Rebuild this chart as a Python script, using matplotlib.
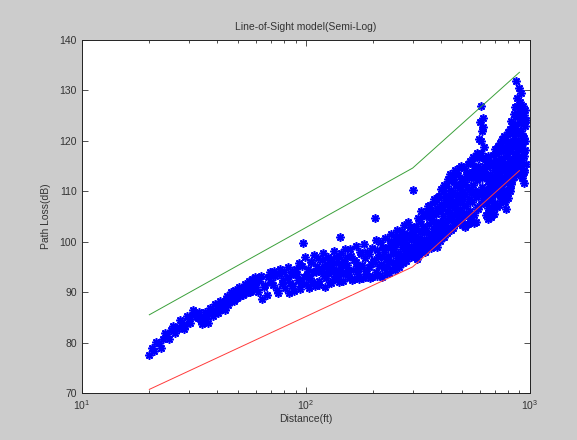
import numpy as np
import matplotlib
matplotlib.use("Agg")
import matplotlib.pyplot as plt
from matplotlib.ticker import LogLocator, NullFormatter

plt.rcParams['font.family'] = ['Liberation Sans', 'DejaVu Sans']

# measured path loss vs. distance, first walk
distance_ft = [
    20, 21, 22, 23, 24, 25, 26, 27, 28, 29, 30, 31, 32, 33, 34, 35, 36, 37, 38, 39,
    40, 41, 42, 43, 44, 45, 46, 47, 48, 49, 50, 51, 52, 53, 54, 55, 56, 57, 58, 59, 60,
    62, 64, 66, 68, 70, 72, 74, 76, 78, 80, 82, 84, 86, 88, 90, 92, 94, 96, 97, 98,
    100, 102, 104, 106, 108, 110, 112, 114, 116, 118, 120, 122, 124, 126, 128, 130,
    132, 134, 136, 138, 140, 142, 144, 146, 148, 150,
    153, 156, 159, 162, 165, 168, 171, 174, 177, 180, 183, 186, 189, 192, 195, 198,
    201, 203, 206, 209, 212, 215, 218, 221, 224, 227, 230, 233, 236, 239, 242, 245,
    248, 251, 254, 257, 260, 263, 266, 269, 272, 275, 278, 281, 284, 287, 290, 293,
    296, 299, 301,
    303, 306, 309, 312, 315, 318, 321, 324, 327, 330, 333, 336, 339, 342, 345, 348,
    351, 354, 357, 360, 363, 366, 369, 372, 375, 378, 381, 384, 387, 390, 393, 396,
    399, 402, 405, 408, 411, 414, 417, 420, 423, 426, 429, 432, 435, 438, 441, 444,
    447, 450, 453, 456, 459, 462, 465, 468, 471, 474, 477, 480, 483, 486, 489, 492,
    495, 498,
    501, 504, 507, 510, 513, 516, 519, 522, 525, 528, 531, 534, 537, 540, 543, 546,
    549, 552, 555, 558, 561, 564, 567, 570, 573, 576, 579, 582, 585, 588, 591, 594,
    597, 600, 603, 606, 609, 612, 615, 618, 621, 624, 627, 630, 633, 636, 639, 642,
    645, 648, 651, 654, 657, 660, 663, 666, 669, 672, 675, 678, 681, 684, 687, 690,
    693, 696, 699, 702, 705, 708, 711, 714, 717, 720, 723, 726, 729, 732, 735, 738,
    741, 744, 747, 750, 753, 756, 759, 762, 765, 768, 771, 774, 777, 780, 783, 786,
    789, 792, 795, 798, 801, 804, 807, 810, 813, 816, 819, 822, 825, 828, 831, 834,
    837, 840, 843, 846, 849, 852, 855, 858, 861, 864, 867, 870, 873, 876, 879, 882,
    885, 888, 891, 894, 897, 900, 903, 906, 909, 912, 915, 918, 921, 924, 927, 930,
    933, 936, 939, 942, 945, 948, 951, 954, 957, 960,
]
path_loss_db = [
    77.6, 78.4, 79.9, 80.6, 81.3, 82.4, 81.8, 83.1, 84.0, 83.2, 84.6, 85.5, 85.9, 84.9,
    84.2, 85.0, 84.6, 85.7, 86.3, 85.9, 86.8, 87.4, 86.6, 87.9, 88.4, 87.5, 88.8, 89.3,
    88.2, 89.6, 90.1, 89.2, 90.6, 91.0, 89.9, 90.8, 91.4, 90.3, 91.7, 92.1, 91.0,
    92.3, 88.6, 91.5, 93.0, 92.1, 94.2, 90.4, 93.5, 91.6, 94.0, 92.7, 89.8, 93.3, 91.2,
    94.5, 92.4, 90.6, 95.1, 99.8, 93.0, 91.7, 94.6, 92.8, 96.0, 93.9, 91.3, 95.2, 92.2,
    94.4, 96.4, 93.1, 91.0, 95.5, 93.7, 92.0, 96.6, 94.1, 92.6, 95.8, 93.4, 97.0, 100.9,
    94.8, 92.3, 96.2, 93.8,
    95.4, 92.9, 97.1, 94.3, 92.5, 96.0, 93.6, 98.0, 95.0, 92.7, 96.8, 94.2, 93.1, 97.5,
    95.6, 92.9, 96.4, 104.6, 94.0, 98.3, 95.2, 93.4, 97.2, 99.0, 94.8, 96.5, 93.7, 98.7,
    95.9, 100.2, 94.5, 97.6, 99.4, 95.3, 101.0, 96.8, 94.9, 99.8, 97.4, 102.1, 95.8,
    100.3, 98.1, 96.2, 101.6, 99.0, 97.3, 103.0, 100.4, 98.2, 110.2,
    101.5, 97.0, 99.6, 103.2, 96.6, 100.8, 98.4, 104.1, 97.9, 101.9, 99.3, 105.2, 98.6,
    102.7, 100.1, 106.0, 99.0, 103.6, 101.3, 107.3, 99.8, 104.5, 102.2, 108.4, 100.5,
    105.7, 103.0, 98.9, 106.6, 101.8, 109.0, 104.0, 100.2, 107.5, 102.6, 110.1, 105.1,
    101.0, 108.2, 103.7, 111.0, 106.0, 101.7, 109.2, 104.6, 112.0, 107.1, 102.4, 110.3,
    105.5, 113.0, 108.0, 103.4, 114.3, 106.8, 111.5, 104.2, 109.4, 113.2, 106.2, 110.6,
    103.9, 108.7, 112.4, 105.6, 109.9,
    104.8, 111.9, 107.3, 114.6, 102.9, 109.5, 113.0, 105.7, 110.8, 115.4, 103.6, 108.4,
    112.7, 106.1, 116.0, 109.9, 104.3, 113.8, 107.9, 111.2, 116.8, 105.2, 110.1, 114.5,
    103.9, 108.9, 117.6, 112.3, 106.5, 115.1, 109.2, 120.4, 113.6, 123.8, 107.4, 126.9,
    117.5, 121.9, 110.8, 124.6, 114.3, 118.7, 108.0, 112.9, 116.4, 105.3, 110.2, 114.9,
    107.7, 104.5, 112.1, 116.9, 109.0, 105.8, 113.5, 110.6, 104.9, 115.7, 108.3, 111.8,
    106.2, 117.1, 112.4, 105.4, 109.7, 114.2, 118.3, 107.6, 111.3, 116.0, 106.9, 113.9,
    109.4, 118.9, 112.0, 107.2, 115.6, 110.4, 119.6, 113.2, 108.1, 116.6, 111.0, 120.3,
    114.1, 108.8, 117.9, 112.5, 121.0, 109.6, 115.3, 118.6, 107.9, 113.7, 106.4, 120.7,
    111.6, 116.7, 109.3, 121.8, 114.0, 108.7, 118.2, 112.8, 122.4, 110.0, 116.1, 119.7,
    111.4, 124.0, 115.0, 118.9, 112.2, 122.9, 116.5, 113.1, 125.3, 119.2, 114.6, 121.5,
    117.3, 126.8, 113.9, 131.9, 120.1, 124.8, 115.8, 128.6, 118.4, 122.2, 113.6, 130.4,
    125.9, 117.0, 121.3, 127.7, 114.8, 123.6, 119.0, 129.4, 116.3, 124.4, 112.6, 121.0,
    127.0, 117.8, 114.2, 125.2, 120.6, 111.7, 123.0, 118.1, 126.1, 115.5,
]

# second walk over the same route
distance2_ft = [
    20.5, 21.5, 22.5, 23.5, 24.5, 25.5, 26.5, 27.5, 28.5, 29.5, 30.5, 31.5, 32.5, 33.5,
    34.5, 35.5, 36.5, 37.5, 38.5, 39.5, 40.5, 41.5, 42.5, 43.5, 44.5, 45.5, 46.5, 47.5,
    48.5, 49.5, 50.5, 51.5, 52.5, 53.5, 54.5, 55.5, 56.5, 57.5, 58.5, 59.5,
    61, 63, 65, 67, 69, 71, 73, 75, 77, 79, 81, 83, 85, 87, 89, 91, 93, 95, 99, 101,
    103, 105, 107, 109, 111, 113, 115, 117, 119, 121, 123, 125, 127, 129, 131, 133,
    135, 137, 139, 141, 143, 145, 147, 149,
    152, 155, 158, 161, 164, 167, 170, 173, 176, 179, 182, 185, 188, 191, 194, 197,
    200, 205, 208, 211, 214, 217, 220, 223, 226, 229, 232, 235, 238, 241, 244, 247,
    250, 253, 256, 259, 262, 265, 268, 271, 274, 277, 280, 283, 286, 289, 292, 295, 298,
    304, 307, 310, 313, 316, 319, 322, 325, 328, 331, 334, 337, 340, 343, 346, 349,
    352, 355, 358, 361, 364, 367, 370, 373, 376, 379, 382, 385, 388, 391, 394, 397,
    400, 403, 406, 409, 412, 415, 418, 421, 424, 427, 430, 433, 436, 439, 442, 445,
    448, 451, 454, 457, 460, 463, 466, 469, 472, 475, 478, 481, 484, 487, 490, 493,
    496, 499,
    502, 508, 514, 520, 526, 532, 538, 544, 550, 556, 562, 568, 574, 580, 586, 592,
    598, 604, 610, 616, 622, 628, 634, 640, 646, 652, 658, 664, 670, 676, 682, 688,
    694, 700, 706, 712, 718, 724, 730, 736, 742, 748, 754, 760, 766, 772, 778, 784,
    790, 796, 802, 808, 814, 820, 826, 832, 838, 844, 850, 856, 862, 868, 874, 880,
    886, 892, 898, 904, 910, 916, 922, 928, 934, 940, 946, 952, 958,
]
path_loss2_db = [
    79.0, 80.2, 78.9, 81.9, 80.7, 83.3, 82.6, 84.5, 82.7, 85.3, 83.8, 86.4, 85.0, 86.1,
    83.7, 86.0, 83.9, 86.9, 85.2, 87.6, 85.9, 88.3, 87.1, 86.5, 89.2, 88.1, 90.0, 88.5,
    90.4, 88.9, 91.0, 90.2, 89.4, 91.7, 90.9, 92.3, 90.0, 92.5, 91.2, 92.9,
    90.1, 93.1, 91.0, 89.5, 94.0, 91.4, 93.2, 89.9, 94.6, 92.4, 90.8, 95.0, 91.9, 94.1,
    90.2, 93.6, 95.7, 91.9, 96.9, 93.5, 90.9, 95.9, 92.1, 97.3, 94.0, 96.7, 91.5, 93.9,
    97.8, 95.0, 92.7, 97.0, 94.6, 91.8, 95.4, 98.1, 93.2, 96.9, 94.4, 92.1, 97.7, 95.6,
    93.5, 98.5,
    96.9, 94.1, 98.6, 92.4, 96.3, 99.1, 94.8, 92.6, 97.5, 95.3, 99.6, 93.5, 97.9, 95.0,
    92.8, 98.8, 96.0, 100.3, 93.2, 97.0, 99.9, 95.5, 92.9, 98.0, 100.8, 95.1, 97.2,
    93.8, 99.3, 101.5, 96.0, 98.6, 94.3, 99.9, 102.4, 97.7, 95.5, 101.1, 98.9, 96.6,
    103.3, 99.5, 97.6, 100.9, 104.0, 98.5, 101.4, 96.9, 102.6,
    99.0, 102.8, 98.0, 100.5, 104.6, 97.5, 102.0, 99.9, 106.0, 98.3, 103.2, 100.6, 97.9,
    105.0, 102.0, 99.4, 107.1, 100.4, 104.8, 98.8, 106.3, 101.2, 104.0, 99.7, 107.9,
    102.3, 105.5, 100.9, 103.8, 108.9, 101.0, 106.2, 103.3, 110.5, 100.9, 106.9, 104.0,
    111.3, 102.0, 107.6, 109.0, 104.4, 112.5, 103.0, 108.6, 105.9, 113.4, 104.5, 109.7,
    107.0, 102.8, 111.8, 105.2, 109.2, 113.6, 103.8, 107.8, 111.0, 104.9, 114.7, 108.2,
    105.8, 110.9, 115.0, 103.4, 107.6,
    108.9, 103.5, 111.5, 107.0, 113.9, 105.0, 110.3, 104.6, 115.6, 109.6, 103.8, 112.8,
    117.0, 106.9, 113.4, 116.6, 109.8, 119.9, 112.6, 122.7, 108.4, 115.0, 109.5, 113.3,
    116.0, 106.6, 111.4, 115.3, 108.6, 113.0, 110.0, 115.9, 107.3, 112.7, 117.3, 109.7,
    114.8, 110.7, 117.9, 109.0, 114.6, 118.7, 111.8, 115.5, 110.2, 119.9, 114.4, 109.1,
    117.6, 112.3, 119.1, 115.3, 110.6, 118.0, 114.0, 121.3, 116.0, 120.0, 112.9, 117.6,
    123.4, 116.9, 127.0, 119.6, 114.9, 124.9, 119.7, 116.0, 126.4, 121.9, 113.0, 119.4,
    123.5, 116.9, 113.8, 120.0, 124.2,
]

# two-slope model bounds (breakpoint near 300 ft)
bound_ft = [20, 300, 900]
upper_db = [85.5, 114.6, 133.6]
lower_db = [70.7, 95.0, 114.1]

fig = plt.figure(figsize=(5.77, 4.40), dpi=100, facecolor="#cccccc")
ax = fig.add_axes([0.142, 0.107, 0.776, 0.802])
ax.set_facecolor("white")

star = dict(linestyle="none", marker=(8, 2, 0), markersize=6,
            markeredgewidth=1.2, color="blue")
ax.semilogx(distance_ft, path_loss_db, **star)
ax.semilogx(distance2_ft, path_loss2_db, **star)
ax.semilogx(bound_ft, upper_db, color="#3aa03a", linewidth=0.7)
ax.semilogx(bound_ft, lower_db, color="#ff3a3a", linewidth=0.7)

ax.set_xlim(10, 1000)
ax.set_ylim(70, 140)
ax.set_yticks(np.arange(70, 141, 10))
ax.xaxis.set_major_locator(LogLocator(base=10))
ax.xaxis.set_minor_locator(LogLocator(base=10, subs=np.arange(2, 10)))
ax.xaxis.set_minor_formatter(NullFormatter())

ax.tick_params(which="both", direction="in", top=True, right=True,
               labelsize=7.5, colors="#333333", width=0.6)
ax.tick_params(which="major", length=4)
ax.tick_params(which="minor", length=2.5)
for s in ax.spines.values():
    s.set_linewidth(0.7)
    s.set_color("#222222")

ax.set_title("Line-of-Sight model(Semi-Log)", fontsize=7.5, pad=7, color="#333333")
ax.set_xlabel("Distance(ft)", fontsize=7.5, labelpad=2, color="#333333")
ax.set_ylabel("Path Loss(dB)", fontsize=7.5, labelpad=6, color="#333333")

fig.savefig("out.png", dpi=100, facecolor=fig.get_facecolor())
